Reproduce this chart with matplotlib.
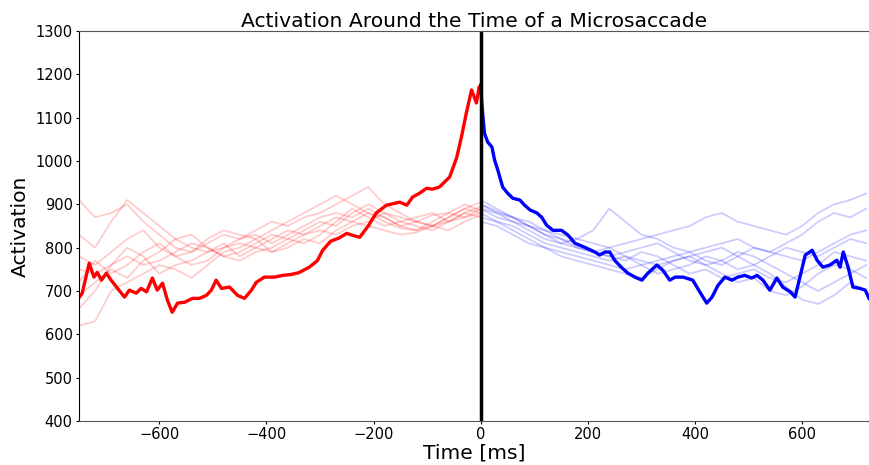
import matplotlib
matplotlib.use("Agg")
import matplotlib.pyplot as plt
import numpy as np

# thick traces: mean activation before / after the microsaccade
pre_t = [-751, -744, -731, -722, -716, -708, -699, -690, -678, -665, -656, -643, -634,
         -624, -613, -604, -594, -585, -576, -566, -553, -538, -525, -512, -503, -494,
         -484, -469, -454, -441, -428, -419, -404, -385, -370, -355, -340, -320, -305,
         -295, -280, -265, -250, -238, -226, -210, -195, -176, -151, -138, -127, -115,
         -101, -90, -77, -58, -45, -36, -27, -17, -8, -3]
pre_v = [683, 695, 764, 732, 743, 725, 741, 725, 706, 686, 702, 695, 706,
         698, 730, 702, 718, 679, 651, 672, 674, 683, 683, 690, 702, 725,
         706, 709, 690, 683, 702, 720, 732, 732, 736, 738, 742, 755, 770,
         794, 815, 822, 833, 828, 824, 850, 880, 898, 905, 898, 917, 925,
         937, 935, 940, 963, 1007, 1055, 1110, 1164, 1134, 1170]

post_t = [0, 2, 7, 13, 21, 26, 32, 41, 50, 60, 73, 82, 92, 105, 114, 123, 135, 151,
          163, 176, 194, 213, 222, 232, 241, 250, 264, 275, 288, 301, 312, 329, 340,
          353, 363, 378, 396, 409, 422, 432, 443, 456, 469, 480, 493, 506, 516, 527,
          540, 553, 564, 578, 587, 596, 606, 619, 628, 639, 652, 665, 671, 677, 686,
          695, 708, 718, 725]
post_v = [1175, 1134, 1064, 1044, 1032, 1002, 979, 940, 926, 914, 910, 898, 887, 880,
          870, 852, 840, 840, 829, 810, 801, 790, 783, 790, 790, 771, 753, 741, 732,
          725, 741, 760, 748, 725, 732, 732, 725, 698, 672, 686, 713, 732, 725, 732,
          736, 730, 736, 725, 702, 730, 709, 698, 686, 732, 783, 794, 771, 755, 760,
          771, 755, 790, 755, 709, 706, 702, 683]

# faint single-trial traces
faint_pre_t = list(range(-750, 1, 30))
faint_pre = [
    [910, 870, 880, 900, 860, 830, 800, 790, 810, 830, 820, 840, 860, 850, 870, 880, 900, 920, 940, 900, 880, 860, 850, 860, 880, 895],
    [830, 800, 860, 910, 880, 850, 820, 800, 790, 800, 820, 830, 810, 830, 850, 870, 880, 870, 890, 870, 850, 840, 850, 870, 890, 880],
    [780, 760, 790, 820, 840, 800, 780, 790, 820, 840, 830, 820, 840, 860, 880, 900, 920, 900, 880, 860, 845, 840, 860, 880, 870, 890],
    [750, 740, 760, 780, 760, 770, 790, 810, 800, 780, 790, 810, 830, 820, 840, 860, 850, 880, 900, 880, 860, 850, 840, 860, 880, 870],
    [720, 770, 740, 760, 790, 810, 780, 760, 770, 800, 810, 800, 790, 810, 830, 850, 870, 860, 850, 840, 830, 835, 850, 870, 890, 905],
    [690, 720, 750, 730, 770, 790, 820, 830, 800, 780, 770, 790, 800, 820, 810, 830, 860, 890, 870, 850, 860, 870, 880, 860, 870, 880],
    [660, 700, 760, 800, 780, 740, 760, 770, 790, 810, 780, 800, 820, 840, 830, 840, 830, 850, 860, 880, 870, 860, 850, 840, 860, 875],
    [620, 630, 700, 720, 740, 760, 750, 730, 760, 790, 800, 820, 790, 800, 820, 810, 840, 860, 880, 870, 850, 860, 875, 880, 900, 885],
]
faint_post_t = list(range(0, 721, 30))
faint_post = [
    [890, 880, 870, 860, 840, 830, 820, 810, 800, 810, 820, 830, 840, 850, 870, 880, 860, 850, 840, 830, 850, 880, 900, 910, 925],
    [900, 880, 860, 840, 820, 810, 820, 840, 890, 860, 830, 820, 800, 790, 800, 810, 820, 800, 790, 810, 830, 860, 880, 870, 890],
    [880, 860, 850, 830, 810, 800, 790, 780, 770, 780, 760, 770, 780, 790, 770, 760, 780, 800, 790, 780, 770, 790, 810, 830, 840],
    [870, 860, 840, 820, 800, 790, 780, 770, 760, 750, 760, 740, 750, 760, 780, 770, 750, 760, 780, 800, 790, 780, 800, 820, 810],
    [910, 890, 870, 850, 830, 810, 800, 790, 780, 770, 790, 780, 760, 740, 750, 730, 740, 750, 730, 720, 740, 760, 790, 780, 770],
    [860, 850, 830, 810, 800, 780, 770, 760, 750, 740, 730, 750, 770, 780, 760, 740, 720, 730, 700, 690, 710, 740, 760, 750, 730],
    [890, 870, 860, 850, 830, 820, 810, 790, 780, 790, 800, 810, 790, 770, 760, 770, 790, 780, 760, 740, 720, 700, 720, 740, 760],
    [900, 885, 870, 850, 840, 820, 800, 790, 800, 780, 770, 760, 770, 780, 790, 800, 780, 760, 740, 710, 680, 670, 690, 720, 700],
]

fig = plt.figure(figsize=(8.69, 4.65), dpi=100)
ax = fig.add_axes([79 / 869, 44 / 465, 1 - 79 / 869, 390 / 465])

for tr in faint_pre:
    ax.plot(faint_pre_t, tr, color="red", alpha=0.2, lw=1.3)
for tr in faint_post:
    ax.plot(faint_post_t, tr, color="blue", alpha=0.2, lw=1.3)

ax.plot(pre_t, pre_v, color="red", lw=2.4)
ax.plot(post_t, post_v, color="blue", lw=2.4)
ax.axvline(0, color="black", lw=2.5)

ax.set_xlim(-750, 725)
ax.set_ylim(400, 1300)
ax.set_yticks(np.arange(400, 1301, 100))
ax.set_xticks([-600, -400, -200, 0, 200, 400, 600])
ax.tick_params(labelsize=10.5, length=2.5, pad=2)
ax.spines["right"].set_visible(False)
ax.spines["top"].set_color("#555555")
ax.spines["bottom"].set_color("#555555")

ax.set_title("Activation Around the Time of a Microsaccade", fontsize=14.6, pad=3)
ax.set_xlabel("Time [ms]", fontsize=14.6, labelpad=1)
ax.set_ylabel("Activation", fontsize=14.6, labelpad=4)

fig.savefig("out.png", dpi=100)
